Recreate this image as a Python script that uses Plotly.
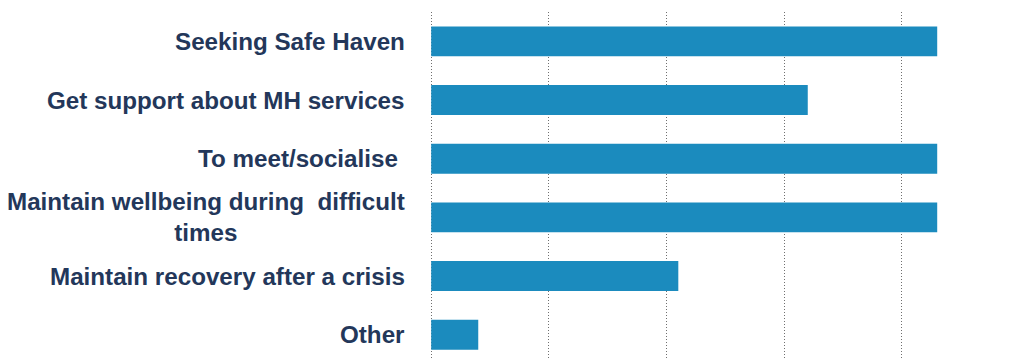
import plotly.graph_objects as go

# Reasons for attending, top to bottom
categories = [
    "Seeking Safe Haven",
    "Get support about MH services",
    "To meet/socialise ",
    "Maintain wellbeing during  difficult<br>times",
    "Maintain recovery after a crisis",
    "Other",
]
values = [43, 32, 43, 43, 21, 4]

BAR_COLOR = "#1B8BBE"
TEXT_COLOR = "#23375A"
GRID_COLOR = "#6f6f6f"

fig = go.Figure(
    go.Bar(
        x=values,
        y=list(range(len(categories))),
        orientation="h",
        marker=dict(color=BAR_COLOR, line=dict(width=0)),
        width=0.51,
        hoverinfo="skip",
    )
)

# Category labels, right-aligned to the left of the axis, centred line by line
for i, label in enumerate(categories):
    fig.add_annotation(
        x=-0.0397,
        xref="paper",
        y=i,
        yref="y",
        text=label,
        showarrow=False,
        xanchor="right",
        yanchor="middle",
        align="center",
        font=dict(family="Liberation Sans, Arial, sans-serif", size=24.2,
                  color=TEXT_COLOR, weight="bold"),
    )

fig.update_xaxes(
    range=[-0.1, 49.1],
    dtick=10,
    showgrid=True,
    gridcolor=GRID_COLOR,
    gridwidth=1,
    griddash="1px,2px",
    zeroline=False,
    showticklabels=False,
    showline=False,
    ticks="",
)
fig.update_yaxes(
    range=[5.43, -0.5],
    showgrid=False,
    zeroline=False,
    showticklabels=False,
    showline=False,
    ticks="",
)

fig.update_layout(
    width=1009,
    height=360,
    margin=dict(l=430, r=0, t=12, b=0),
    paper_bgcolor="white",
    plot_bgcolor="white",
    showlegend=False,
    font=dict(family="Liberation Sans, Arial, sans-serif", color=TEXT_COLOR),
)

fig.write_html("out.html")
